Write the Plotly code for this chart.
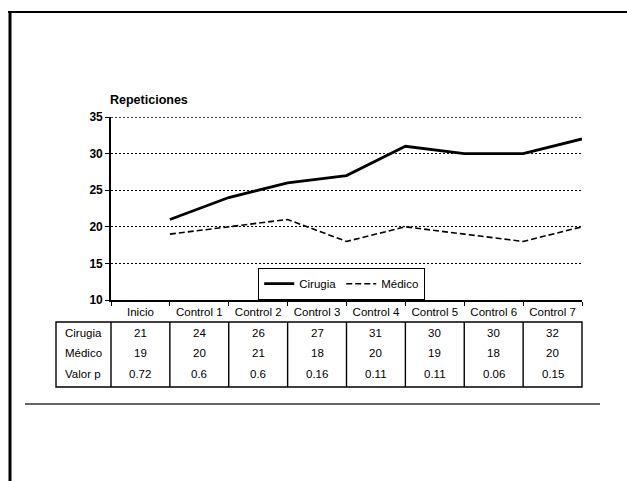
import plotly.graph_objects as go

# Repetitions per visit for the two treatment groups
categorias = ["Inicio", "Control 1", "Control 2", "Control 3",
              "Control 4", "Control 5", "Control 6", "Control 7"]
cirugia = [21, 24, 26, 27, 31, 30, 30, 32]
medico = [19, 20, 21, 18, 20, 19, 18, 20]
valor_p = [0.72, 0.6, 0.6, 0.16, 0.11, 0.11, 0.06, 0.15]
y_ticks = [10, 15, 20, 25, 30, 35]

FONT = "Arial, Liberation Sans, Helvetica, sans-serif"
W, H = 627, 481
L, R, T, B = 111, 45, 117, 181
PW, PH = W - L - R, H - T - B


def px(xp):
    return (xp - L) / PW


def py(yp):
    return (H - B - yp) / PH


n = len(categorias)
# points sit on the right-hand boundary of each category cell
xs = [i + 1 for i in range(n)]

fig = go.Figure()
fig.add_trace(go.Scatter(x=xs, y=cirugia, mode="lines", name="Cirugia",
                         line=dict(color="black", width=2.8)))
fig.add_trace(go.Scatter(x=xs, y=medico, mode="lines", name="Médico",
                         line=dict(color="black", width=1.6, dash="6px,3px")))

shapes = []
annotations = []

# dotted gridline along the top of the value range
shapes.append(dict(type="line", xref="paper", yref="y",
                   x0=0, x1=1, y0=max(y_ticks), y1=max(y_ticks), layer="below",
                   line=dict(color="black", width=1.4, dash="2px,2px")))

# table box below the chart
top, bot = py(322), py(387)
shapes.append(dict(type="rect", xref="paper", yref="paper",
                   x0=px(56), x1=1.0, y0=bot, y1=top,
                   line=dict(color="black", width=1.4)))
for i in range(n):
    shapes.append(dict(type="line", xref="paper", yref="paper",
                       x0=i / n, x1=i / n, y0=bot, y1=top,
                       line=dict(color="black", width=1.4)))

filas = [("Cirugia", [str(v) for v in cirugia], 333),
         ("Médico", [str(v) for v in medico], 353),
         ("Valor p", [f"{v:g}" for v in valor_p], 374)]
for etiqueta, vals, ypix in filas:
    annotations.append(dict(text=etiqueta, xref="paper", yref="paper",
                            x=px(83), y=py(ypix), showarrow=False,
                            xanchor="center", yanchor="middle",
                            font=dict(family=FONT, size=11.5, color="black")))
    for i, v in enumerate(vals):
        annotations.append(dict(text=v, xref="x", yref="paper",
                                x=i + 0.5, y=py(ypix), showarrow=False,
                                xanchor="center", yanchor="middle",
                                font=dict(family=FONT, size=11.5, color="black")))

# axis title
annotations.append(dict(text="<b>Repeticiones</b>", xref="paper", yref="paper",
                        x=px(108), y=py(100), showarrow=False,
                        xanchor="left", yanchor="middle",
                        font=dict(family=FONT, size=12.5, color="black")))

# page frame and separator rule
shapes.append(dict(type="line", xref="paper", yref="paper",
                   x0=px(8), x1=px(627), y0=py(12), y1=py(12),
                   line=dict(color="black", width=2.2)))
shapes.append(dict(type="line", xref="paper", yref="paper",
                   x0=px(10), x1=px(10), y0=py(11), y1=py(481),
                   line=dict(color="black", width=3)))
shapes.append(dict(type="line", xref="paper", yref="paper",
                   x0=px(25), x1=px(600), y0=py(404), y1=py(404),
                   line=dict(color="#333333", width=1.5)))

fig.update_layout(
    width=W, height=H,
    margin=dict(l=L, r=R, t=T, b=B),
    paper_bgcolor="white", plot_bgcolor="white",
    font=dict(family=FONT, size=11, color="black"),
    showlegend=True,
    legend=dict(orientation="h", x=px(258), y=0, xanchor="left", yanchor="bottom",
                bgcolor="white", bordercolor="black", borderwidth=1.2,
                font=dict(family=FONT, size=11.5, color="black"),
                itemwidth=30, tracegroupgap=0),
    shapes=shapes,
    annotations=annotations,
)

fig.update_xaxes(range=[0, n], tickmode="array",
                 tickvals=[i + 0.5 for i in range(n)], ticktext=categorias,
                 ticks="", showgrid=False, zeroline=False,
                 showline=True, linecolor="black", linewidth=1.6,
                 tickfont=dict(family=FONT, size=11.5, color="black"),
                 minor=dict(tickmode="array", tickvals=list(range(n + 1)),
                            ticks="outside", ticklen=4, tickcolor="black",
                            tickwidth=1.2, showgrid=False))
fig.update_yaxes(range=[min(y_ticks), max(y_ticks)], tickmode="array",
                 tickvals=y_ticks,
                 ticks="outside", ticklen=4, tickcolor="black",
                 showline=True, linecolor="black", linewidth=1.6,
                 showgrid=True, gridcolor="black", gridwidth=1.4,
                 griddash="2px,2px", zeroline=False,
                 tickfont=dict(family=FONT, size=12, color="black", weight="bold"))

fig.write_html("out.html")
